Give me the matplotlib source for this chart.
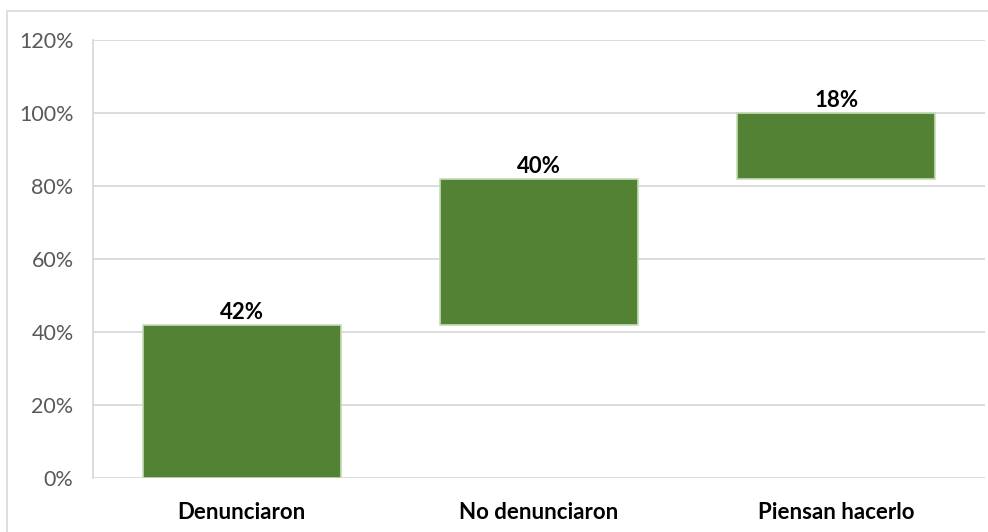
import matplotlib
matplotlib.use("Agg")
import matplotlib.pyplot as plt
from matplotlib.patches import Rectangle

categories = ["Denunciaron", "No denunciaron", "Piensan hacerlo"]
values = [42, 40, 18]
yticks = [0, 20, 40, 60, 80, 100, 120]

plt.rcParams['font.family'] = ['Lato', 'DejaVu Sans']

W, H = 988, 532
fig = plt.figure(figsize=(W/100, H/100), dpi=100)
ax = fig.add_axes([93/W, 1-478/H, (985-93)/W, (478-40)/H])

bottoms = []
acc = 0
for v in values:
    bottoms.append(acc)
    acc += v

x = list(range(len(categories)))
ax.bar(x, values, bottom=bottoms, width=0.667, color="#548235",
       edgecolor="#C5DDB5", linewidth=1.2, zorder=3)
for xi, b, v in zip(x, bottoms, values):
    ax.text(xi, b + v + 0.6, f"{v}%", ha="center", va="bottom",
            fontsize=16, fontweight="bold", color="black")

ax.set_xlim(-0.5, len(categories) - 0.5)
ax.set_ylim(0, 120)
ax.set_yticks(yticks)
ax.set_yticklabels([f"{t}%" for t in yticks], fontsize=15.5, color="#595959")
ax.set_xticks(x)
ax.set_xticklabels(categories, fontsize=16, fontweight="bold", color="black")
ax.tick_params(axis="both", length=0)
ax.tick_params(axis="x", pad=17)
ax.tick_params(axis="y", pad=14)
ax.grid(axis="y", color="#D9D9D9", linewidth=1.3, zorder=0)
for s in ["top", "right", "bottom"]:
    ax.spines[s].set_visible(False)
ax.spines["left"].set_color("#D9D9D9")
ax.spines["left"].set_linewidth(1.3)

fig.patches.append(Rectangle((7/W, -0.1), 1.2, 1.1 - 11/H, transform=fig.transFigure,
                             fill=False, edgecolor="#D9D9D9", linewidth=1.2))

fig.savefig("out.png", dpi=100)
